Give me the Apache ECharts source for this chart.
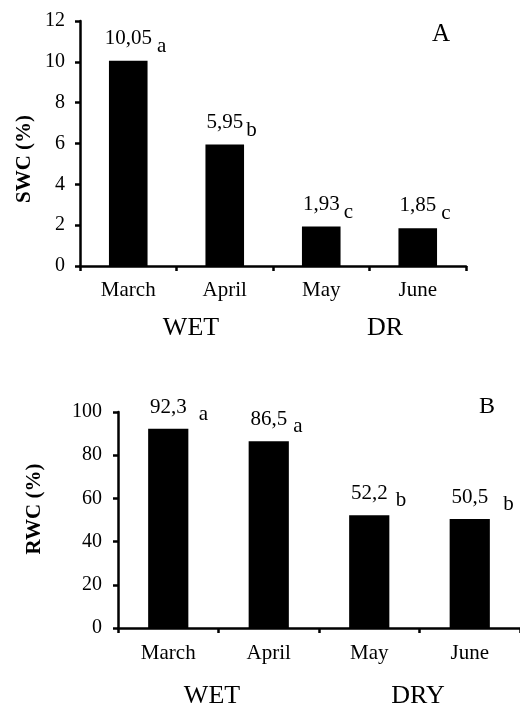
<!DOCTYPE html>
<html>
<head>
<meta charset="utf-8">
<style>
  html, body { margin: 0; padding: 0; background: #fff; }
  #chart { width: 520px; height: 705px; }
</style>
<script src="https://cdn.jsdelivr.net/npm/echarts@6/dist/echarts.min.js"></script>
</head>
<body>
<div id="chart"></div>
<script>
// ---- data ----
const categories = ['March', 'April', 'May', 'June'];
const swcValues = [10.05, 5.95, 1.93, 1.85];
const swcLetters = ['a', 'b', 'c', 'c'];
const rwcValues = [92.3, 86.5, 52.2, 50.5];
const rwcLetters = ['a', 'a', 'b', 'b'];
const swcAxis = { min: 0, max: 12, interval: 2 };
const rwcAxis = { min: 0, max: 100, interval: 20 };
const seasonsA = ['WET', 'DR'];
const seasonsB = ['WET', 'DRY'];

// ---- styling ----
const FONT = "'Liberation Serif', 'Times New Roman', serif";
const gapA = [5, 3, 4, 5];
const gapB = [12, 6, 8, 15];

function fmt(v) { return String(v).replace('.', ','); }

function makeRich(gaps, lower, size) {
  const rich = { v: { fontFamily: FONT, fontSize: size, color: '#000' } };
  gaps.forEach((g, i) => {
    rich['p' + i] = { fontFamily: FONT, fontSize: size, color: 'transparent', padding: [0, g, 0, 0] };
    rich['s' + i] = { fontFamily: FONT, fontSize: size, color: '#000', padding: [lower * 2, 0, 0, g] };
  });
  return rich;
}

function labelFor(letters, gaps, lower, size) {
  return {
    show: true,
    position: 'top',
    distance: 4,
    formatter: p => {
      const i = p.dataIndex;
      return '{p' + i + '|' + letters[i] + '}{v|' + fmt(p.value) + '}{s' + i + '|' + letters[i] + '}';
    },
    rich: makeRich(gaps, lower, size)
  };
}

const axisLineStyle = { color: '#000', width: 2.5 };

function xAxisFor(gridIndex, margin) {
  return {
    type: 'category', gridIndex, data: categories,
    axisLine: { show: true, lineStyle: axisLineStyle },
    axisTick: { show: true, length: 5, lineStyle: { color: '#000', width: 2.5 } },
    axisLabel: { color: '#000', fontFamily: FONT, fontSize: 21, margin }
  };
}
function yAxisFor(gridIndex, cfg, margin) {
  return {
    type: 'value', gridIndex, min: cfg.min, max: cfg.max, interval: cfg.interval,
    splitLine: { show: false },
    axisLine: { show: true, lineStyle: axisLineStyle },
    axisTick: { show: true, length: 5, lineStyle: { color: '#000', width: 2.5 } },
    axisLabel: { color: '#000', fontFamily: FONT, fontSize: 20, margin }
  };
}

const chart = echarts.init(document.getElementById('chart'), null, { renderer: 'canvas' });

const option = {
  backgroundColor: '#fff',
  animation: false,
  grid: [
    { left: 80, top: 21, right: 54, bottom: 439 },
    { left: 118, top: 412, right: -5, bottom: 77 }
  ],
  xAxis: [xAxisFor(0, 14), xAxisFor(1, 15)],
  yAxis: [yAxisFor(0, swcAxis, 15), yAxisFor(1, rwcAxis, 16)],
  series: [
    {
      type: 'bar', xAxisIndex: 0, yAxisIndex: 0, data: swcValues,
      barWidth: '40%', itemStyle: { color: '#000' },
      label: labelFor(swcLetters, gapA, 8, 21)
    },
    {
      type: 'bar', xAxisIndex: 1, yAxisIndex: 1, data: rwcValues,
      barWidth: '40%', itemStyle: { color: '#000' },
      label: labelFor(rwcLetters, gapB, 7, 21)
    }
  ],
  graphic: [
    { type: 'text', x: 25, y: 159, rotation: Math.PI / 2,
      style: { text: 'SWC (%)', font: "bold 21px " + FONT, fill: '#000', align: 'center', verticalAlign: 'middle' } },
    { type: 'text', x: 35, y: 509, rotation: Math.PI / 2,
      style: { text: 'RWC (%)', font: "bold 21px " + FONT, fill: '#000', align: 'center', verticalAlign: 'middle' } },
    { type: 'text', x: 441, y: 34,
      style: { text: 'A', font: "25px " + FONT, fill: '#000', align: 'center', verticalAlign: 'middle' } },
    { type: 'text', x: 487, y: 407,
      style: { text: 'B', font: "24px " + FONT, fill: '#000', align: 'center', verticalAlign: 'middle' } },
    { type: 'text', x: 191, y: 328,
      style: { text: seasonsA[0], font: "26px " + FONT, fill: '#000', align: 'center', verticalAlign: 'middle' } },
    { type: 'text', x: 385, y: 328,
      style: { text: seasonsA[1], font: "26px " + FONT, fill: '#000', align: 'center', verticalAlign: 'middle' } },
    { type: 'text', x: 212, y: 696,
      style: { text: seasonsB[0], font: "26px " + FONT, fill: '#000', align: 'center', verticalAlign: 'middle' } },
    { type: 'text', x: 418, y: 696,
      style: { text: seasonsB[1], font: "26px " + FONT, fill: '#000', align: 'center', verticalAlign: 'middle' } }
  ]
};
chart.setOption(option);
</script>
</body>
</html>
